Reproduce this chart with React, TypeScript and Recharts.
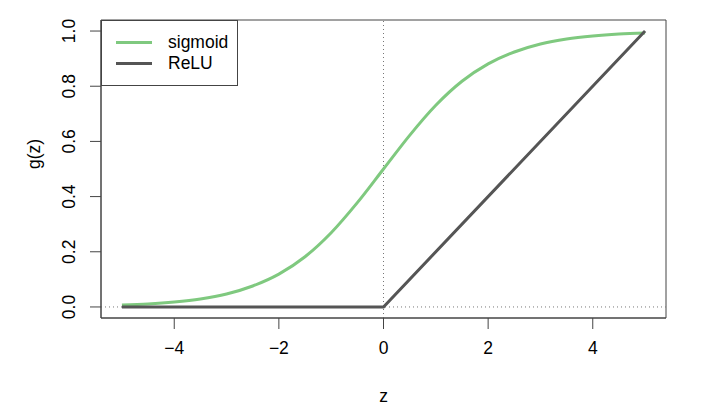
import React from "react";
import { LineChart, Line, XAxis, YAxis, ReferenceLine, ReferenceArea } from "recharts";

// values
const zValues = [-5, -4.5, -4, -3.5, -3, -2.5, -2, -1.5, -1, -0.5, 0, 0.5, 1, 1.5, 2, 2.5, 3, 3.5, 4, 4.5, 5];
const sigmoidValues = [0.007, 0.011, 0.018, 0.029, 0.047, 0.076, 0.119, 0.182, 0.269, 0.378, 0.5, 0.622, 0.731, 0.818, 0.881, 0.924, 0.953, 0.971, 0.982, 0.989, 0.993];
const reluZ = [-5, 0, 5];
const reluValues = [0, 0, 1];
const xTicks = [-4, -2, 0, 2, 4];
const yTicks = [0, 0.2, 0.4, 0.6, 0.8, 1.0];

const sigmoidData = zValues.map((z, i) => ({ z, g: sigmoidValues[i] }));
const reluData = reluZ.map((z, i) => ({ z, g: reluValues[i] }));

const GREEN = "#7fc97f";
const GREY = "#555555";
const FONT = "'Liberation Sans', Arial, sans-serif";
const FS = 17.5;

function YTick({ x, y, payload }: any) {
  return (
    <text
      x={x - 15}
      y={y}
      transform={`rotate(-90, ${x - 15}, ${y})`}
      textAnchor="middle"
      fontSize={FS}
      fontFamily={FONT}
      fill="#000"
    >
      {payload.value.toFixed(1)}
    </text>
  );
}

export default function App() {
  return (
    <div style={{ position: "relative", width: 708, height: 411, background: "#fff", margin: -8 }}>
      <LineChart width={708} height={411} margin={{ top: 20, right: 42, bottom: 0, left: 41 }}>
        <XAxis
          type="number"
          dataKey="z"
          domain={[-5.4, 5.4]}
          ticks={xTicks}
          allowDataOverflow
          height={93}
          tickSize={11}
          tickMargin={13}
          stroke="#444"
          tick={{ fill: "#000", fontSize: FS, fontFamily: FONT }}
          tickFormatter={(v: number) => String(v).replace("-", "\u2212")}
          label={{ value: "z", position: "insideBottom", offset: 9, fill: "#000", fontSize: FS, fontFamily: FONT }}
        />
        <YAxis
          type="number"
          dataKey="g"
          domain={[-0.04, 1.04]}
          ticks={yTicks}
          allowDataOverflow
          width={60}
          tickSize={11}
          tickMargin={0}
          stroke="#444"
          tick={<YTick />}
          label={{ value: "g(z)", angle: -90, position: "insideLeft", offset: 0, fill: "#000", fontSize: FS, fontFamily: FONT, dx: -7 }}
        />
        <ReferenceArea x1={-5.4} x2={5.4} y1={-0.04} y2={1.04} fill="none" stroke="#444" strokeWidth={1} />
        <ReferenceLine x={0} stroke="#777" strokeDasharray="1 3" />
        <ReferenceLine y={0} stroke="#777" strokeDasharray="1 3" />
        <Line data={sigmoidData} dataKey="g" type="monotone" stroke={GREEN} strokeWidth={3} dot={false} isAnimationActive={false} />
        <Line data={reluData} dataKey="g" type="linear" stroke={GREY} strokeWidth={3} dot={false} isAnimationActive={false} />
      </LineChart>
      <div
        style={{
          position: "absolute",
          left: 101,
          top: 20,
          width: 135,
          height: 64,
          border: "1px solid #444",
          background: "#fff",
          fontFamily: FONT,
          fontSize: FS,
        }}
      >
        {[
          { name: "sigmoid", color: GREEN, top: 11 },
          { name: "ReLU", color: GREY, top: 32 },
        ].map((d) => (
          <div key={d.name} style={{ position: "absolute", left: 14, top: d.top, height: 20, display: "flex", alignItems: "center" }}>
            <span style={{ display: "inline-block", width: 36, height: 3, background: d.color }} />
            <span style={{ marginLeft: 16, color: "#000" }}>{d.name}</span>
          </div>
        ))}
      </div>
    </div>
  );
}
